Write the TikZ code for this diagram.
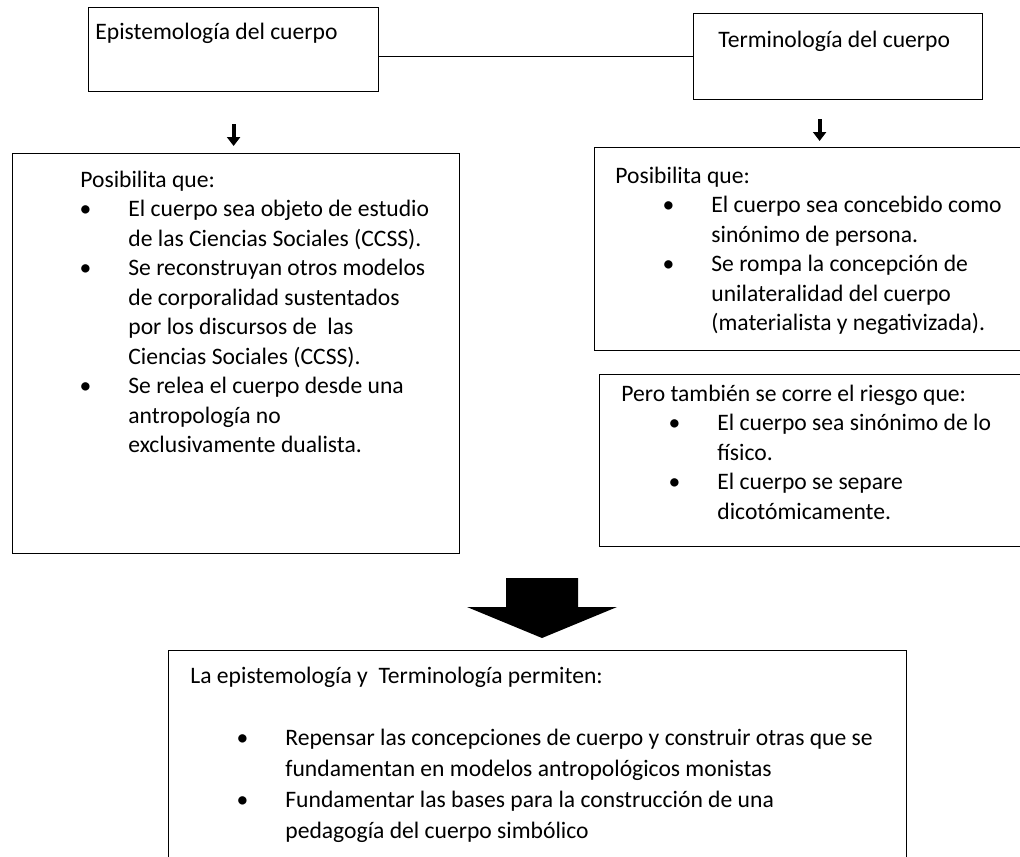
\documentclass[tikz,border=0pt]{standalone}
\usepackage{fontspec}
\setmainfont{Carlito}
\usepackage{tikz}
\usetikzlibrary{arrows.meta}
\newdimen\bulx
\newdimen\txtx
\newcommand\bl{\rlap{\hspace*{\bulx}\makebox[0pt]{\textbullet}}\hspace*{\txtx}}
\newcommand\nl{\hspace*{\txtx}}
\tikzstyle{bx}=[draw, line width=.6pt, inner sep=0pt, anchor=north west]
\tikzstyle{txt}=[inner sep=0pt, anchor=base west, font={\fontsize{11.8pt}{14.75pt}\selectfont}, execute at begin node={\bulx=26.5pt\txtx=48pt}]
\tikzstyle{ar}=[line width=2pt, -{Triangle[length=4.5pt,width=6.5pt]}]

\begin{document}
\begin{tikzpicture}[x=.5pt, y=-.5pt]
	\useasboundingbox (0,0) rectangle (1020,856);
	\clip (0,0) rectangle (1020,856);
	\node[bx, minimum width=145pt, minimum height=42pt] (epi) at (88,7) {};
	\node[bx, minimum width=144.5pt, minimum height=43pt] (term) at (693,13) {};
	\node[bx, minimum width=223.5pt, minimum height=200pt] (posc) at (12,153) {};
	\node[bx, minimum width=230pt, minimum height=101.5pt] (posd) at (594,147) {};
	\node[bx, minimum width=230pt, minimum height=86pt] (riesgo) at (599,374) {};
	\node[bx, minimum width=369pt, minimum height=120pt] (res) at (168,650) {};
	\node[txt] (epit) at (95,40) {Epistemología del cuerpo};
	\node[txt] (termt) at (718,48) {Terminología del cuerpo};
	\node[txt, execute at begin node={\bulx=2.5pt\txtx=24pt}] (posct) at (80,187) {\begin{tabular}[t]{@{}l@{}}
	  Posibilita que:\\
	  \bl El cuerpo sea objeto de estudio\\ \nl de las Ciencias Sociales (CCSS).\\
	  \bl Se reconstruyan otros modelos\\ \nl de corporalidad sustentados\\ \nl por los discursos de~ las\\ \nl Ciencias Sociales (CCSS).\\
	  \bl Se relea el cuerpo desde una\\ \nl antropología no\\ \nl exclusivamente dualista.
	\end{tabular}};
	\node[txt] (posdt) at (615,183) {\begin{tabular}[t]{@{}l@{}}
	  Posibilita que:\\
	  \bl El cuerpo sea concebido como\\ \nl sinónimo de persona.\\
	  \bl Se rompa la concepción de\\ \nl unilateralidad del cuerpo\\ \nl (materialista y negativizada).
	\end{tabular}};
	\node[txt] (riesgot) at (621,401) {\begin{tabular}[t]{@{}l@{}}
	  Pero también se corre el riesgo que:\\
	  \bl El cuerpo sea sinónimo de lo\\ \nl físico.\\
	  \bl El cuerpo se separe\\ \nl dicotómicamente.
	\end{tabular}};
	\node[txt, font={\fontsize{11.8pt}{15.5pt}\selectfont}, execute at begin node={\txtx=47.5pt\bulx=26pt}] (rest) at (190,683) {\begin{tabular}[t]{@{}l@{}}
	  La epistemología y~ Terminología permiten:\\ \\
	  \bl Repensar las concepciones de cuerpo y construir otras que se\\ \nl fundamentan en modelos antropológicos monistas\\
	  \bl Fundamentar las bases para la construcción de una\\ \nl pedagogía del cuerpo simbólico
	\end{tabular}};
	\coordinate (tb) at ([xshift=-9.25pt]term.south);
	\draw[line width=.6pt] (epi.east |- term.west) -- (term.west);
	\draw[ar, shorten <=16pt, shorten >=3.5pt] (epi.south) -- (epi.south |- posc.north);
	\draw[ar, shorten <=9.5pt, shorten >=3pt] (tb) -- (tb |- posd.north);
	\fill (506,578) -- (578,578) -- (578,607) -- (617,607) -- (542,638) -- (467,607) -- (506,607) -- cycle;
\end{tikzpicture}
\end{document}
